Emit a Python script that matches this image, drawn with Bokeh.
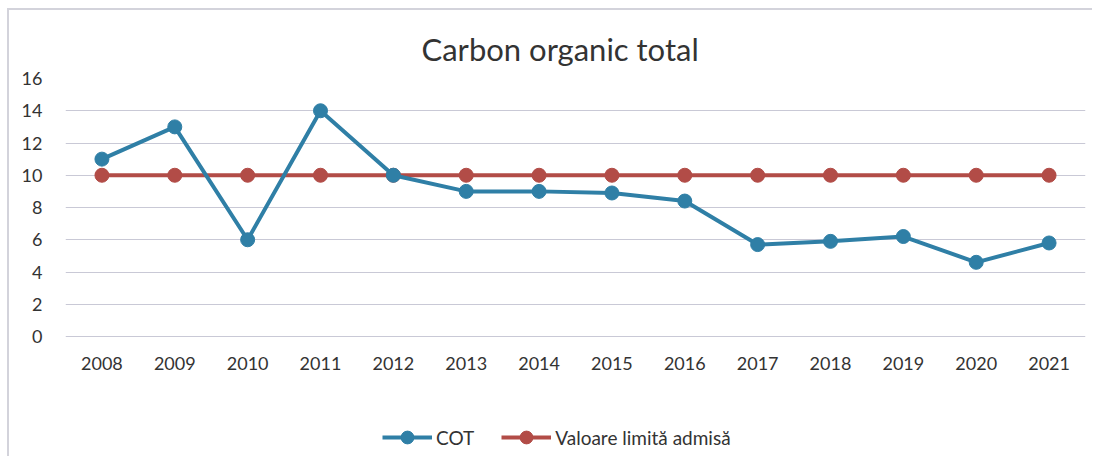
from bokeh.plotting import figure
from bokeh.models import Range1d, FactorRange, Legend, LegendItem, FixedTicker
from bokeh.embed import file_html
from bokeh.resources import INLINE

years = ["2008", "2009", "2010", "2011", "2012", "2013", "2014",
         "2015", "2016", "2017", "2018", "2019", "2020", "2021"]
cot = [11, 13, 6, 14, 10, 9, 9, 8.9, 8.4, 5.7, 5.9, 6.2, 4.6, 5.8]
limit = [10, 10, 10, 10, 10, 10, 10, 10, 10, 10, 10, 10, 10, 10]
y_ticks = [0, 2, 4, 6, 8, 10, 12, 14, 16]

FONT = "Lato"
BLUE = "#2f7fa6"
RED = "#b24c47"
TXT = "#333333"
EDGE = "#d3d3db"

# frame spans from the top gridline (16) down to the bottom of the figure,
# so that the legend can live inside it
p = figure(width=1095, height=456, output_backend="svg", toolbar_location=None,
           x_range=FactorRange(*years, range_padding=0),
           y_range=Range1d(-120 / 16.125, 16),
           title="Carbon organic total",
           min_border_left=65, min_border_right=10, min_border_top=78, min_border_bottom=0)

# light chart-area border (left and top) like the scanned original
p.styles = {
    "background": (f"linear-gradient({EDGE},{EDGE}) 7px 8px / 2px 452px no-repeat, "
                   f"linear-gradient({EDGE},{EDGE}) 7px 8px / 1085px 2px no-repeat, white"),
}

p.title.align = "left"
p.title.offset = 356
p.title.text_font = FONT
p.title.text_font_size = "31px"
p.title.text_font_style = "normal"
p.title.text_color = TXT
p.title.standoff = 22

p.outline_line_color = None
p.background_fill_color = "white"
p.border_fill_color = None

p.yaxis.ticker = FixedTicker(ticks=y_ticks)
p.yaxis.axis_line_color = None
p.yaxis.major_tick_line_color = None
p.yaxis.minor_tick_line_color = None
p.yaxis.major_label_text_font = FONT
p.yaxis.major_label_text_font_size = "18px"
p.yaxis.major_label_text_color = TXT
p.yaxis.major_label_standoff = 17

p.xaxis.fixed_location = 0
p.xaxis.axis_line_color = None
p.xaxis.major_tick_line_color = None
p.xaxis.major_label_text_font = FONT
p.xaxis.major_label_text_font_size = "18px"
p.xaxis.major_label_text_color = TXT
p.xaxis.major_label_standoff = 14

p.xgrid.grid_line_color = None
p.ygrid.grid_line_color = "#c9c9d6"
p.ygrid.grid_line_width = 1.2

l2 = p.line(years, limit, line_color=RED, line_width=4)
c2 = p.scatter(years, limit, size=14, fill_color=RED, line_color=RED)
l1 = p.line(years, cot, line_color=BLUE, line_width=4)
c1 = p.scatter(years, cot, size=14, fill_color=BLUE, line_color=BLUE)

legend = Legend(items=[LegendItem(label="COT", renderers=[l1, c1]),
                       LegendItem(label="Valoare limită admisă", renderers=[l2, c2])],
                orientation="horizontal", location=(317, 3),
                label_text_font=FONT, label_text_font_size="19px",
                label_text_color=TXT, glyph_width=50, glyph_height=32,
                label_standoff=4, spacing=27, border_line_color=None,
                background_fill_alpha=0, margin=0, padding=4)
p.add_layout(legend, "center")

open("out.html", "w").write(file_html(p, INLINE))
